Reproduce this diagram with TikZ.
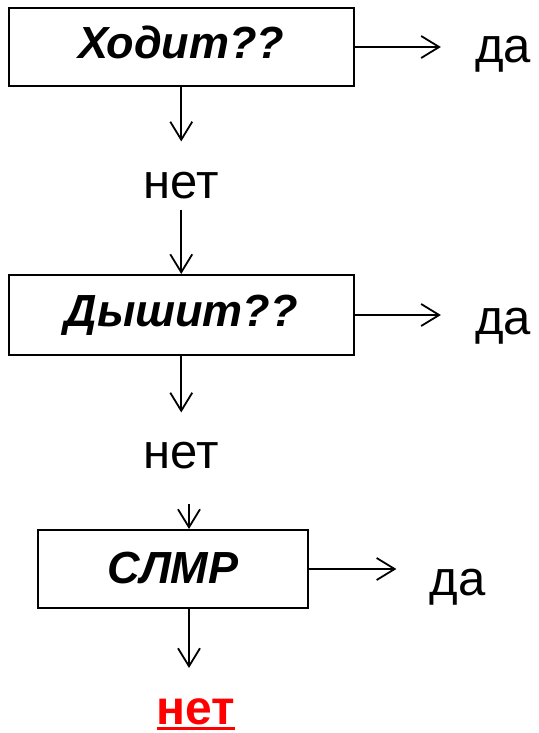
\documentclass[tikz,border=0pt]{standalone}
\usepackage{fontspec}
\setmainfont{Liberation Sans}
\usetikzlibrary{arrows.meta,calc}
\newsavebox\ulbox
\newcommand\myul[1]{\sbox\ulbox{#1}\makebox[0pt][l]{\rule[-6pt]{\wd\ulbox}{3pt}}\usebox\ulbox}
\begin{document}
\begin{tikzpicture}[x=1pt,y=-1pt,
  qbox/.style={draw,line width=2pt,inner sep=0pt,text height=33pt,text depth=10pt,
    font=\fontsize{45}{54}\selectfont\bfseries\itshape},
  lab/.style={inner sep=0pt,anchor=base,font=\fontsize{49}{58}\selectfont},
  arr/.style={line width=1.8pt,-{Straight Barb[length=18pt,width=22pt,line width=1.8pt]}}]
\useasboundingbox (0,0) rectangle (538,733);
\node[qbox,minimum width=345.5pt,minimum height=77.5pt] (b1) at (181.25,47) {Ходит??};
\node[qbox,minimum width=345.5pt,minimum height=80pt] (b2) at (181.25,315) {Дышит??};
\node[qbox,minimum width=270pt,minimum height=78pt,text height=36pt,text depth=7pt] (b3) at (173,569) {СЛМР};
\node[lab] (d1) at (503,63) {да};
\node[lab] (d2) at (503,334) {да};
\node[lab] (d3) at (457.5,595) {да};
\node[lab] (n1) at (181.5,198) {нет};
\node[lab] (n2) at (181.5,468) {нет};
\node[lab,text=red,font=\fontsize{48}{57}\selectfont\bfseries] (n3) at (196,724) {\myul{нет}};
\draw[arr,shorten >=34pt] (b1.east) -- (b1.east -| d1.west);
\draw[arr,shorten >=34pt] (b2.east) -- (b2.east -| d2.west);
\draw[arr,shorten >=33pt] (b3.east) -- (b3.east -| d3.west);
\draw[arr,shorten >=30pt] (b1.south) -- (b1.south |- n1.north);
\draw[arr,shorten <=11pt] (b2.north |- n1.south) -- (b2.north);
\draw[arr,shorten >=29pt] (b2.south) -- (b2.south |- n2.north);
\draw[arr,shorten <=35pt] ([xshift=16pt]b3.north |- n2.south) -- ([xshift=16pt]b3.north);
\draw[arr,shorten >=30pt] ([xshift=16pt]b3.south) -- ([xshift=16pt]b3.south |- n3.north);
\end{tikzpicture}
\end{document}
